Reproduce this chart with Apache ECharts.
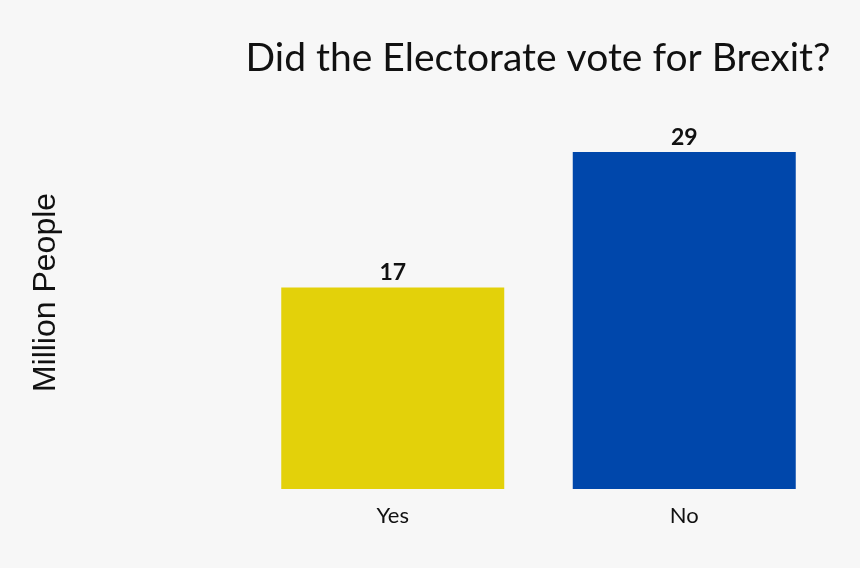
<!DOCTYPE html>
<html>
<head>
<meta charset="utf-8">
<script src="https://cdn.jsdelivr.net/npm/echarts@6/dist/echarts.min.js"></script>
<style>
    html, body { margin: 0; padding: 0; background: #f7f7f7; }
    #chart { width: 860px; height: 568px; }
</style>
</head>
<body>
<div id="chart"></div>
<script>
    // answers and electorate counts (million people)
    const categories = ['Yes', 'No'];
    const values = [17.4, 29.1];
    const barColors = ['#e3d10a', '#0047ab'];

    const chart = echarts.init(document.getElementById('chart'));
    const option = {
        backgroundColor: '#f7f7f7',
        title: {
            text: 'Did the Electorate vote for Brexit?',
            left: 533,
            top: 34,
            textAlign: 'center',
            textStyle: {
                fontFamily: 'Lato',
                fontSize: 39,
                fontWeight: 'normal',
                color: '#111'
            }
        },
        grid: {
            left: 247,
            right: 30,
            top: 152,
            bottom: 79
        },
        xAxis: {
            type: 'category',
            data: categories,
            axisLine: { show: false },
            axisTick: { show: false },
            axisLabel: {
                fontFamily: 'Lato',
                fontSize: 22,
                color: '#111',
                margin: 16
            }
        },
        yAxis: {
            type: 'value',
            min: 0,
            max: 29.1,
            name: 'Million People',
            nameLocation: 'middle',
            nameGap: 185,
            nameTextStyle: {
                fontFamily: 'Liberation Sans',
                fontSize: 32,
                color: '#111',
                padding: [0, 0, 0, 56]
            },
            axisLine: { show: false },
            axisTick: { show: false },
            axisLabel: { show: false },
            splitLine: { show: false }
        },
        series: [
            {
                type: 'bar',
                barCategoryGap: '23.5%',
                data: values.map(function (v, i) {
                    return { value: v, itemStyle: { color: barColors[i] } };
                }),
                label: {
                    show: true,
                    position: 'top',
                    distance: 3,
                    fontFamily: 'Lato',
                    fontSize: 23,
                    fontWeight: 'bold',
                    color: '#111',
                    formatter: function (p) {
                        return Math.round(p.value);
                    }
                }
            }
        ]
    };
    chart.setOption(option);
    window.addEventListener('resize', function () {
        chart.resize();
    });
</script>
</body>
</html>
